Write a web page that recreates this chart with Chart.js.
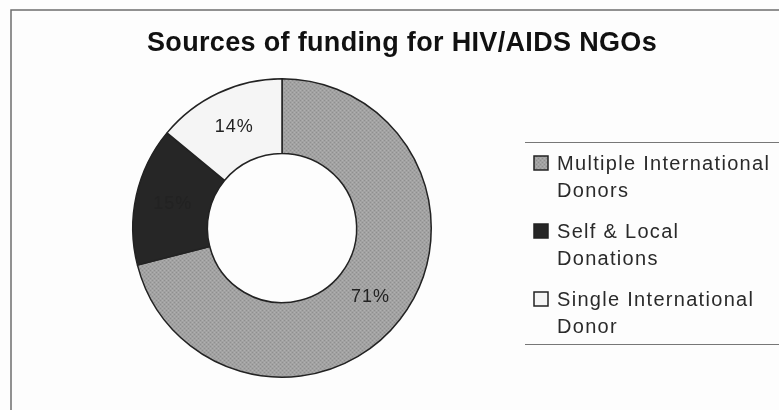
<!DOCTYPE html>
<html>
<head>
<meta charset="utf-8">
<script src="https://cdn.jsdelivr.net/npm/chart.js@4"></script>
<style>
body { margin: 0; background: #fdfdfd; }
canvas { display: block; }
</style>
</head>
<body>
<canvas id="funding" width="779" height="410"></canvas>
<script>
var chartTitle = "Sources of funding for HIV/AIDS NGOs";
var sources = ["Multiple International Donors", "Self & Local Donations", "Single International Donor"];
var legendLines = [["Multiple International", "Donors"], ["Self & Local", "Donations"], ["Single International", "Donor"]];
var shares = [71, 15, 14];

// fine dotted grey fill like the old office chart
function dotted()
{
    var c = document.createElement('canvas');
    c.width = 4;
    c.height = 4;
    var g = c.getContext('2d');
    g.fillStyle = '#a2a2a2';
    g.fillRect(0, 0, 4, 4);
    g.fillStyle = '#8f8f8f';
    g.fillRect(0, 0, 1, 1);
    g.fillRect(2, 2, 1, 1);
    g.fillStyle = '#b0b0b0';
    g.fillRect(2, 0, 1, 1);
    g.fillRect(0, 2, 1, 1);
    return g.createPattern(c, 'repeat');
}
var colors = [dotted(), "#262626", "#f5f5f5"];

var decorations = {
    id: 'decorations',
    beforeDraw: function (chart) {
        var ctx = chart.ctx;
        ctx.save();
        ctx.fillStyle = '#fdfdfd';
        ctx.fillRect(0, 0, chart.width, chart.height);
        ctx.strokeStyle = '#6e6e6e';
        ctx.lineWidth = 1.5;
        ctx.beginPath();
        ctx.moveTo(11, chart.height);
        ctx.lineTo(11, 10);
        ctx.lineTo(chart.width, 10);
        ctx.stroke();
        ctx.restore();
    },
    afterDraw: function (chart) {
        var ctx = chart.ctx;
        ctx.save();
        ctx.fillStyle = '#111';
        ctx.font = 'bold 27px "Liberation Sans", Arial, sans-serif';
        ctx.textAlign = 'left';
        ctx.textBaseline = 'alphabetic';
        var w = ctx.measureText(chartTitle).width;
        ctx.letterSpacing = ((510 - w) / chartTitle.length) + 'px';
        ctx.fillText(chartTitle, 147, 51);

        // legend box lines
        ctx.letterSpacing = '0px';
        ctx.strokeStyle = '#777';
        ctx.lineWidth = 1;
        ctx.beginPath();
        ctx.moveTo(525, 142.5);
        ctx.lineTo(chart.width, 142.5);
        ctx.moveTo(525, 344.5);
        ctx.lineTo(chart.width, 344.5);
        ctx.stroke();

        ctx.font = '20px "Liberation Sans", Arial, sans-serif';
        ctx.letterSpacing = '1.3px';
        for (var i = 0; i < legendLines.length; i++) {
            var y = 170 + i * 68;
            ctx.fillStyle = colors[i];
            ctx.fillRect(534, y - 14, 14, 14);
            ctx.strokeStyle = '#222';
            ctx.lineWidth = 1.5;
            ctx.strokeRect(534, y - 14, 14, 14);
            ctx.fillStyle = '#2a2a2a';
            for (var j = 0; j < legendLines[i].length; j++) {
                ctx.fillText(legendLines[i][j], 557, y + j * 26.5);
            }
        }
        ctx.restore();
    },
    afterDatasetsDraw: function (chart) {
        var ctx = chart.ctx;
        var meta = chart.getDatasetMeta(0);
        ctx.save();
        ctx.font = '18px "Liberation Sans", Arial, sans-serif';
        ctx.letterSpacing = '1px';
        ctx.fillStyle = '#222';
        ctx.textAlign = 'center';
        ctx.textBaseline = 'middle';
        meta.data.forEach(function (arc, i) {
            var p = arc.getCenterPoint();
            ctx.fillText(shares[i] + '%', p.x, p.y);
        });
        ctx.restore();
    }
};

var graphTarget = document.getElementById('funding');
var donut = new Chart(graphTarget, {
    type: 'doughnut',
    data: {
        labels: sources,
        datasets: [
            {
                data: shares,
                backgroundColor: colors,
                borderColor: '#222',
                borderWidth: 1.5
            }
        ]
    },
    options: {
        responsive: false,
        animation: false,
        cutout: '50%',
        layout: { padding: { left: 132, right: 347, top: 78, bottom: 32 } },
        plugins: {
            legend: { display: false },
            title: { display: false },
            tooltip: { enabled: false }
        }
    },
    plugins: [decorations]
});
</script>
</body>
</html>
